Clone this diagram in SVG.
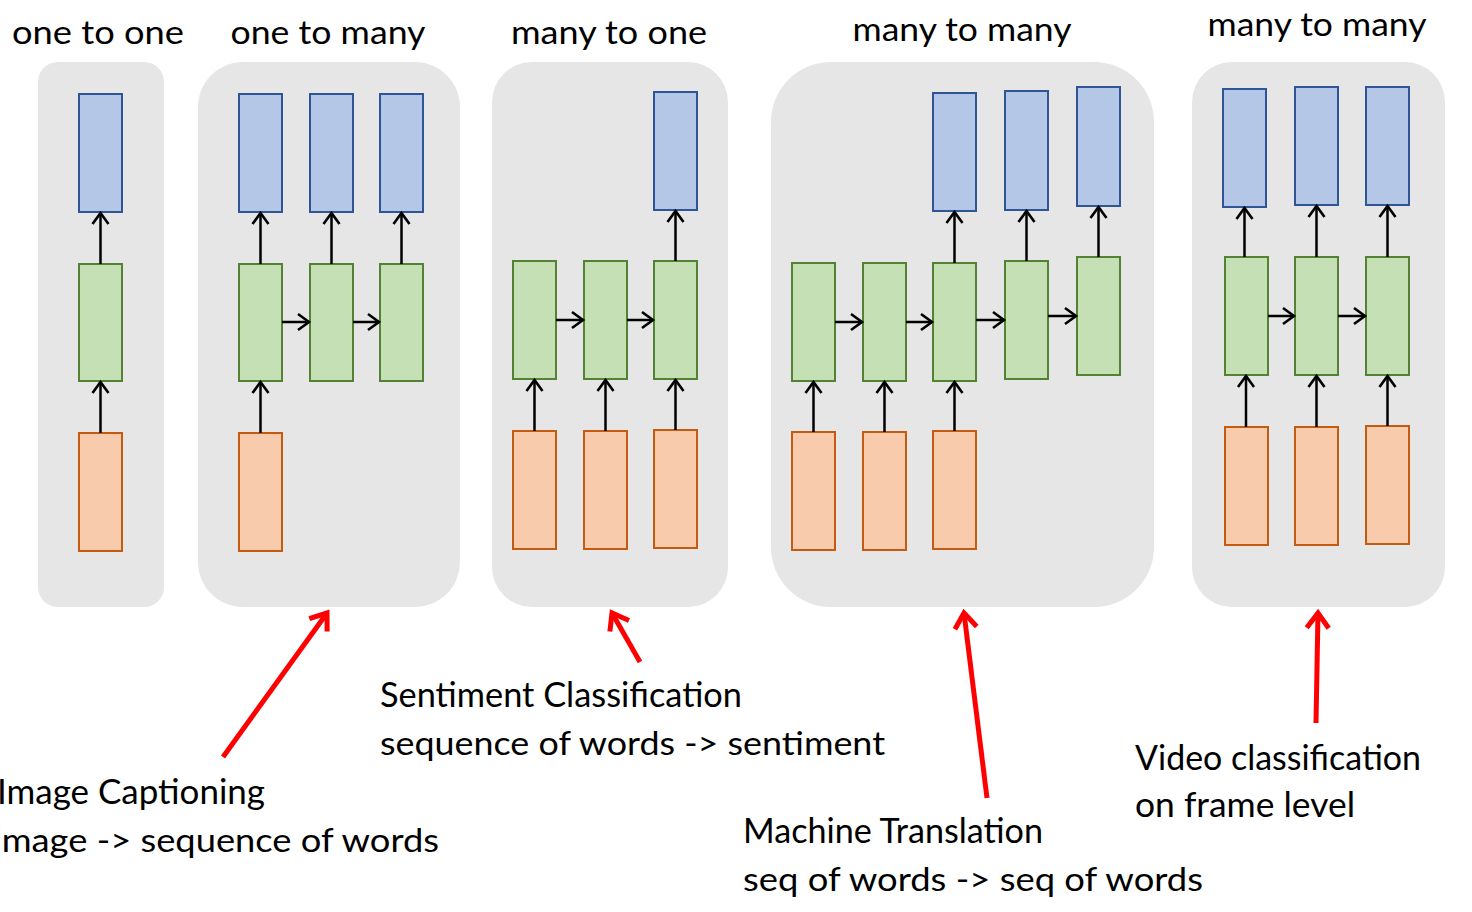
<svg xmlns="http://www.w3.org/2000/svg" width="1472" height="912" viewBox="0 0 1472 912">
<style>
.panel{fill:#E6E6E6;stroke:none}
.out{fill:#B4C7E7;stroke:#2F5597;stroke-width:2}
.hid{fill:#C5E0B4;stroke:#548235;stroke-width:2}
.inp{fill:#F8CBAD;stroke:#C55A11;stroke-width:2}
.c{stroke:#000;stroke-width:2.5;fill:none;marker-end:url(#ah)}
.r{stroke:#FF0000;stroke-width:5;fill:none;marker-end:url(#rh)}
text{font-family:Lato,"Open Sans","Liberation Sans",sans-serif;fill:#000}
.t{font-size:32px;text-anchor:middle}
.h{font-size:34px}
.s{font-size:32px}
</style>
<defs>
<marker id="ah" markerUnits="userSpaceOnUse" markerWidth="16" markerHeight="20" refX="13" refY="10" orient="auto" viewBox="0 0 16 20">
<path d="M2,2 L13,10 L2,18" stroke="#000" stroke-width="2.6" fill="none"/>
</marker>
<marker id="rh" markerUnits="userSpaceOnUse" markerWidth="24" markerHeight="28" refX="19" refY="14" orient="auto" viewBox="0 0 24 28">
<path d="M4,3 L19,14 L4,25" stroke="#FF0000" stroke-width="5" fill="none"/>
</marker>
</defs>
<g id="panels">
<rect class="panel" x="38" y="62" width="126" height="545" rx="20"/>
<rect class="panel" x="198" y="62" width="262" height="545" rx="45"/>
<rect class="panel" x="492" y="62" width="236" height="545" rx="40"/>
<rect class="panel" x="771" y="62" width="383" height="545" rx="60"/>
<rect class="panel" x="1192" y="62" width="253" height="545" rx="40"/>
</g>
<g id="titles">
<text class="t" x="98" y="44" textLength="172" lengthAdjust="spacingAndGlyphs">one to one</text>
<text class="t" x="328" y="44" textLength="195" lengthAdjust="spacingAndGlyphs">one to many</text>
<text class="t" x="609" y="44" textLength="196" lengthAdjust="spacingAndGlyphs">many to one</text>
<text class="t" x="962" y="41" textLength="219" lengthAdjust="spacingAndGlyphs">many to many</text>
<text class="t" x="1317" y="36" textLength="219" lengthAdjust="spacingAndGlyphs">many to many</text>
</g>
<!-- panel 1 -->
<g id="p1-out"><rect class="out" x="79" y="94" width="43" height="118"/></g>
<g id="p1-hid"><rect class="hid" x="79" y="264" width="43" height="117"/></g>
<g id="p1-in"><rect class="inp" x="79" y="433" width="43" height="118"/></g>
<!-- panel 2 -->
<g id="p2-out1"><rect class="out" x="239" y="94" width="43" height="118"/></g>
<g id="p2-out2"><rect class="out" x="310" y="94" width="43" height="118"/></g>
<g id="p2-out3"><rect class="out" x="380" y="94" width="43" height="118"/></g>
<g id="p2-hid1"><rect class="hid" x="239" y="264" width="43" height="117"/></g>
<g id="p2-hid2"><rect class="hid" x="310" y="264" width="43" height="117"/></g>
<g id="p2-hid3"><rect class="hid" x="380" y="264" width="43" height="117"/></g>
<g id="p2-in1"><rect class="inp" x="239" y="433" width="43" height="118"/></g>
<!-- panel 3 -->
<g id="p3-out3"><rect class="out" x="654" y="92" width="43" height="118"/></g>
<g id="p3-hid1"><rect class="hid" x="513" y="261" width="43" height="118"/></g>
<g id="p3-hid2"><rect class="hid" x="584" y="261" width="43" height="118"/></g>
<g id="p3-hid3"><rect class="hid" x="654" y="261" width="43" height="118"/></g>
<g id="p3-in1"><rect class="inp" x="513" y="431" width="43" height="118"/></g>
<g id="p3-in2"><rect class="inp" x="584" y="431" width="43" height="118"/></g>
<g id="p3-in3"><rect class="inp" x="654" y="430" width="43" height="118"/></g>
<!-- panel 4 -->
<g id="p4-out3"><rect class="out" x="933" y="93" width="43" height="118"/></g>
<g id="p4-out4"><rect class="out" x="1005" y="91" width="43" height="119"/></g>
<g id="p4-out5"><rect class="out" x="1077" y="87" width="43" height="119"/></g>
<g id="p4-hid1"><rect class="hid" x="792" y="263" width="43" height="118"/></g>
<g id="p4-hid2"><rect class="hid" x="863" y="263" width="43" height="118"/></g>
<g id="p4-hid3"><rect class="hid" x="933" y="263" width="43" height="118"/></g>
<g id="p4-hid4"><rect class="hid" x="1005" y="261" width="43" height="118"/></g>
<g id="p4-hid5"><rect class="hid" x="1077" y="257" width="43" height="118"/></g>
<g id="p4-in1"><rect class="inp" x="792" y="432" width="43" height="118"/></g>
<g id="p4-in2"><rect class="inp" x="863" y="432" width="43" height="118"/></g>
<g id="p4-in3"><rect class="inp" x="933" y="431" width="43" height="118"/></g>
<!-- panel 5 -->
<g id="p5-out1"><rect class="out" x="1223" y="89" width="43" height="118"/></g>
<g id="p5-out2"><rect class="out" x="1295" y="87" width="43" height="118"/></g>
<g id="p5-out3"><rect class="out" x="1366" y="87" width="43" height="118"/></g>
<g id="p5-hid1"><rect class="hid" x="1225" y="257" width="43" height="118"/></g>
<g id="p5-hid2"><rect class="hid" x="1295" y="257" width="43" height="118"/></g>
<g id="p5-hid3"><rect class="hid" x="1366" y="257" width="43" height="118"/></g>
<g id="p5-in1"><rect class="inp" x="1225" y="427" width="43" height="118"/></g>
<g id="p5-in2"><rect class="inp" x="1295" y="427" width="43" height="118"/></g>
<g id="p5-in3"><rect class="inp" x="1366" y="426" width="43" height="118"/></g>
<g id="connectors">
<!-- panel 1 -->
<line class="c" x1="100.5" y1="433" x2="100.5" y2="382"/>
<line class="c" x1="100.5" y1="264" x2="100.5" y2="213"/>
<!-- panel 2 -->
<line class="c" x1="260.5" y1="433" x2="260.5" y2="382"/>
<line class="c" x1="260.5" y1="264" x2="260.5" y2="213"/>
<line class="c" x1="331.5" y1="264" x2="331.5" y2="213"/>
<line class="c" x1="401.5" y1="264" x2="401.5" y2="213"/>
<line class="c" x1="282" y1="322" x2="309" y2="322"/>
<line class="c" x1="353" y1="322" x2="379" y2="322"/>
<!-- panel 3 -->
<line class="c" x1="534.5" y1="431" x2="534.5" y2="380"/>
<line class="c" x1="605.5" y1="431" x2="605.5" y2="380"/>
<line class="c" x1="675.5" y1="430" x2="675.5" y2="380"/>
<line class="c" x1="675.5" y1="261" x2="675.5" y2="211"/>
<line class="c" x1="556" y1="320" x2="583" y2="320"/>
<line class="c" x1="627" y1="320" x2="653" y2="320"/>
<!-- panel 4 -->
<line class="c" x1="813.5" y1="432" x2="813.5" y2="382"/>
<line class="c" x1="884.5" y1="432" x2="884.5" y2="382"/>
<line class="c" x1="954.5" y1="431" x2="954.5" y2="382"/>
<line class="c" x1="954.5" y1="263" x2="954.5" y2="212"/>
<line class="c" x1="1026.5" y1="261" x2="1026.5" y2="211"/>
<line class="c" x1="1098.5" y1="257" x2="1098.5" y2="207"/>
<line class="c" x1="835" y1="322" x2="862" y2="322"/>
<line class="c" x1="906" y1="322" x2="932" y2="322"/>
<line class="c" x1="976" y1="320" x2="1004" y2="320"/>
<line class="c" x1="1048" y1="316" x2="1076" y2="316"/>
<!-- panel 5 -->
<line class="c" x1="1246" y1="427" x2="1246" y2="376"/>
<line class="c" x1="1316.5" y1="427" x2="1316.5" y2="376"/>
<line class="c" x1="1387.5" y1="426" x2="1387.5" y2="376"/>
<line class="c" x1="1244.5" y1="257" x2="1244.5" y2="208"/>
<line class="c" x1="1316.5" y1="257" x2="1316.5" y2="206"/>
<line class="c" x1="1387.5" y1="257" x2="1387.5" y2="206"/>
<line class="c" x1="1268" y1="316" x2="1294" y2="316"/>
<line class="c" x1="1338" y1="316" x2="1365" y2="316"/>
<!-- red pointers -->
<line class="r" x1="223" y1="757" x2="327" y2="613"/>
<line class="r" x1="640" y1="662" x2="612" y2="613"/>
<line class="r" x1="987" y1="798" x2="964" y2="613"/>
<line class="r" x1="1316" y1="723" x2="1318" y2="613"/>
</g>
<g id="labels">
<text class="h" x="-3" y="804" textLength="268" lengthAdjust="spacingAndGlyphs">Image Captioning</text>
<text class="s" x="-7" y="852" textLength="446" lengthAdjust="spacingAndGlyphs">image -&gt; sequence of words</text>
<text class="h" x="380" y="707" textLength="362" lengthAdjust="spacingAndGlyphs">Sentiment Classification</text>
<text class="s" x="380" y="755" textLength="505" lengthAdjust="spacingAndGlyphs">sequence of words -&gt; sentiment</text>
<text class="h" x="743" y="843" textLength="300" lengthAdjust="spacingAndGlyphs">Machine Translation</text>
<text class="s" x="743" y="891" textLength="460" lengthAdjust="spacingAndGlyphs">seq of words -&gt; seq of words</text>
<text class="h" x="1135" y="770" textLength="286" lengthAdjust="spacingAndGlyphs">Video classification</text>
<text class="h" x="1135" y="817" textLength="220" lengthAdjust="spacingAndGlyphs">on frame level</text>
</g>
</svg>
